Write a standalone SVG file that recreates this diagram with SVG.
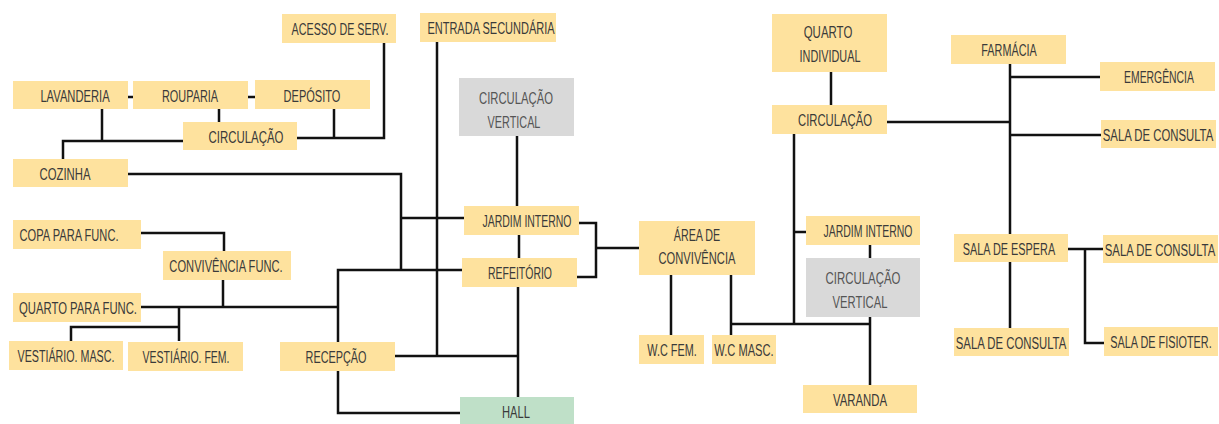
<svg xmlns="http://www.w3.org/2000/svg" width="1219" height="424" viewBox="0 0 1219 424">
<style>
.n{fill:#fee29e}
.g{fill:#d9d9d9}
.h{fill:#bfe0c8}
text{font-family:"Liberation Sans",Arial,sans-serif;font-size:17px;fill:#3a3a3a;text-anchor:middle}
.gt{fill:#555}
.c{fill:none;stroke:#111;stroke-width:2.5}
</style>
<rect width="1219" height="424" fill="#fff"/>
<g id="connectors" class="c">
<path d="M128 97H133M248 97H255M219 109V122"/>
<path d="M102 109V141M63 159V141H183"/>
<path d="M297 138H384V43M334 109V138"/>
<path d="M128 174H401V270"/>
<path d="M401 218H464"/>
<path d="M437 42V356"/>
<path d="M338 342V270H462"/>
<path d="M141 233H224V251M223 280V307M141 307H338M179 307V341M71 341V327H179"/>
<path d="M395 356H518M338 371V413H460"/>
<path d="M517 136V206M519 235V258M518 287V397"/>
<path d="M579 223H596V277H577M596 248H639"/>
<path d="M671 275V335M731 275V335M731 324H870"/>
<path d="M794 134V324M794 232H806M870 245V258M870 317V385"/>
<path d="M831 72V105"/>
<path d="M887 122H1010M1010 64V234M1010 77H1100M1010 135H1101"/>
<path d="M1068 249H1103M1085 249V343H1104M1010 262V328"/>
</g>
<g id="acesso"><rect class="n" x="282" y="14" width="114" height="29"/><text transform="translate(340 35) scale(0.633 1)">ACESSO DE SERV.</text></g>
<g id="lavanderia"><rect class="n" x="13" y="81" width="115" height="28"/><text transform="translate(75 102) scale(0.659 1)">LAVANDERIA</text></g>
<g id="rouparia"><rect class="n" x="133" y="81" width="115" height="28"/><text transform="translate(190 102) scale(0.642 1)">ROUPARIA</text></g>
<g id="deposito"><rect class="n" x="255" y="80" width="115" height="29"/><text transform="translate(312 102) scale(0.649 1)">DEPÓSITO</text></g>
<g id="circulacao1"><rect class="n" x="183" y="122" width="114" height="28"/><text transform="translate(246 143) scale(0.673 1)">CIRCULAÇÃO</text></g>
<g id="cozinha"><rect class="n" x="13" y="159" width="115" height="28"/><text transform="translate(65 180) scale(0.667 1)">COZINHA</text></g>
<g id="copa"><rect class="n" x="13" y="220" width="128" height="29"/><text transform="translate(69 241) scale(0.654 1)">COPA PARA FUNC.</text></g>
<g id="convfunc"><rect class="n" x="163" y="251" width="128" height="29"/><text transform="translate(226 272) scale(0.656 1)">CONVIVÊNCIA FUNC.</text></g>
<g id="quartofunc"><rect class="n" x="13" y="293" width="128" height="29"/><text transform="translate(78 314) scale(0.665 1)">QUARTO PARA FUNC.</text></g>
<g id="vestmasc"><rect class="n" x="9" y="341" width="114" height="29"/><text transform="translate(66 362) scale(0.630 1)">VESTIÁRIO. MASC.</text></g>
<g id="vestfem"><rect class="n" x="128" y="342" width="115" height="29"/><text transform="translate(186 363) scale(0.618 1)">VESTIÁRIO. FEM.</text></g>
<g id="recepcao"><rect class="n" x="280" y="342" width="115" height="29"/><text transform="translate(336 363) scale(0.639 1)">RECEPÇÃO</text></g>
<g id="entrada"><rect class="n" x="420" y="13" width="136" height="29"/><text transform="translate(491 34) scale(0.648 1)">ENTRADA SECUNDÁRIA</text></g>
<g id="circvert1"><rect class="g" x="459" y="78" width="115" height="58"/><text class="gt" transform="translate(516 104) scale(0.664 1)">CIRCULAÇÃO</text><text class="gt" transform="translate(514 128) scale(0.638 1)">VERTICAL</text></g>
<g id="jardim1"><rect class="n" x="464" y="206" width="115" height="29"/><text transform="translate(527 227) scale(0.616 1)">JARDIM INTERNO</text></g>
<g id="refeitorio"><rect class="n" x="462" y="258" width="115" height="29"/><text transform="translate(520 279) scale(0.616 1)">REFEITÓRIO</text></g>
<g id="hall"><rect class="h" x="460" y="397" width="114" height="30"/><text transform="translate(516 418) scale(0.659 1)">HALL</text></g>
<g id="areaconv"><rect class="n" x="639" y="221" width="116" height="54"/><text transform="translate(697 241) scale(0.630 1)">ÁREA DE</text><text transform="translate(697 264) scale(0.657 1)">CONVIVÊNCIA</text></g>
<g id="wcfem"><rect class="n" x="639" y="335" width="65" height="29"/><text transform="translate(672 356) scale(0.638 1)">W.C FEM.</text></g>
<g id="wcmasc"><rect class="n" x="712" y="335" width="64" height="29"/><text transform="translate(744 356) scale(0.655 1)">W.C MASC.</text></g>
<g id="quartoind"><rect class="n" x="772" y="14" width="115" height="58"/><text transform="translate(828 38) scale(0.674 1)">QUARTO</text><text transform="translate(830 62) scale(0.639 1)">INDIVIDUAL</text></g>
<g id="circulacao2"><rect class="n" x="772" y="105" width="115" height="29"/><text transform="translate(835 126) scale(0.664 1)">CIRCULAÇÃO</text></g>
<g id="jardim2"><rect class="n" x="806" y="216" width="114" height="29"/><text transform="translate(868 237) scale(0.616 1)">JARDIM INTERNO</text></g>
<g id="circvert2"><rect class="g" x="806" y="258" width="114" height="59"/><text class="gt" transform="translate(863 284) scale(0.673 1)">CIRCULAÇÃO</text><text class="gt" transform="translate(860 308) scale(0.662 1)">VERTICAL</text></g>
<g id="varanda"><rect class="n" x="803" y="385" width="114" height="28"/><text transform="translate(860 406) scale(0.669 1)">VARANDA</text></g>
<g id="farmacia"><rect class="n" x="951" y="35" width="115" height="29"/><text transform="translate(1009 56) scale(0.638 1)">FARMÁCIA</text></g>
<g id="emergencia"><rect class="n" x="1100" y="62" width="115" height="29"/><text transform="translate(1159 83) scale(0.612 1)">EMERGÊNCIA</text></g>
<g id="consulta1"><rect class="n" x="1101" y="120" width="115" height="28"/><text transform="translate(1158 141) scale(0.668 1)">SALA DE CONSULTA</text></g>
<g id="espera"><rect class="n" x="954" y="234" width="114" height="28"/><text transform="translate(1009 255) scale(0.639 1)">SALA DE ESPERA</text></g>
<g id="consulta2"><rect class="n" x="1103" y="235" width="115" height="28"/><text transform="translate(1160 256) scale(0.668 1)">SALA DE CONSULTA</text></g>
<g id="consulta3"><rect class="n" x="954" y="328" width="115" height="28"/><text transform="translate(1011 349) scale(0.668 1)">SALA DE CONSULTA</text></g>
<g id="fisioter"><rect class="n" x="1104" y="327" width="114" height="29"/><text transform="translate(1161 348) scale(0.639 1)">SALA DE FISIOTER.</text></g>
</svg>
